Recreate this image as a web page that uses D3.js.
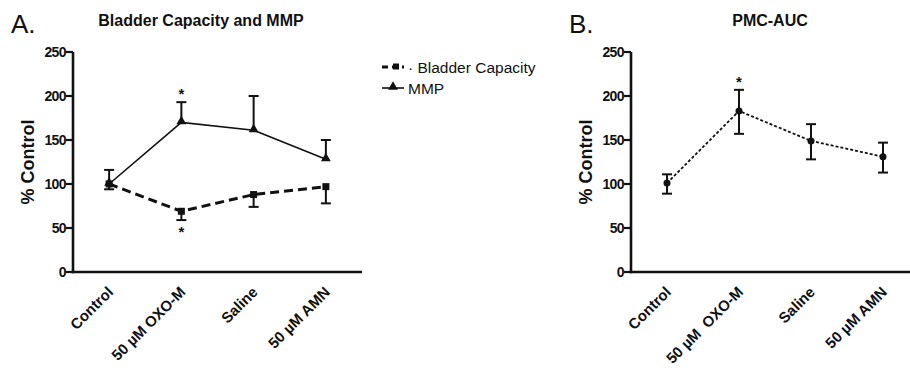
<!DOCTYPE html>
<html>
<head>
<meta charset="utf-8">
<script src="https://cdn.jsdelivr.net/npm/d3@7"></script>
<style>
  body { margin: 0; background: #fff; }
  svg text { font-family: Arial, "Liberation Sans", sans-serif; fill: #111; }
</style>
</head>
<body>
<svg id="chart" width="910" height="376"></svg>
<script>
// categories
const catsA = ['Control', '50 µM OXO-M', 'Saline', '50 µM AMN'];
const catsB = ['Control', '50 µM  OXO-M', 'Saline', '50 µM AMN'];
const yTicks = [0, 50, 100, 150, 200, 250];

// panel A series (mean, error end)
const bladderMean = [100, 69, 88, 97];
const bladderErrLow = [94, 59, 74, 78];
const mmpMean = [100, 170, 161, 128];
const mmpErrHigh = [116, 193, 200, 150];

// panel B series
const pmcMean = [101, 183, 149, 131];
const pmcErrLow = [89, 157, 128, 113];
const pmcErrHigh = [111, 207, 168, 147];

const svg = d3.select('#chart');

function panel(cfg) {
  const x = d3.scalePoint().domain(cfg.cats).range([cfg.x0, cfg.x1]).padding(0.5);
  const y = d3.scaleLinear().domain([0, 250]).range([272, 52]);
  const g = svg.append('g');

  // y axis
  g.append('line').attr('x1', cfg.x0).attr('x2', cfg.x0).attr('y1', y(250)).attr('y2', y(0) + 1.2)
    .attr('stroke', '#111').attr('stroke-width', 2.6);
  g.selectAll('.yt').data(yTicks).enter().append('line')
    .attr('x1', cfg.x0 - 7).attr('x2', cfg.x0).attr('y1', d => y(d)).attr('y2', d => y(d))
    .attr('stroke', '#111').attr('stroke-width', 2.2);
  g.selectAll('.yl').data(yTicks).enter().append('text')
    .attr('x', cfg.x0 - 7).attr('y', d => y(d)).attr('dy', '0.36em')
    .attr('text-anchor', 'end').style('font-size', '14px').style('font-weight', 'bold')
    .style('letter-spacing', '-0.6px')
    .text(d => d);

  // x axis
  g.append('line').attr('x1', cfg.x0 - 1.3).attr('x2', cfg.x1).attr('y1', y(0)).attr('y2', y(0))
    .attr('stroke', '#111').attr('stroke-width', 2.6);
  g.selectAll('.xl').data(cfg.cats).enter().append('text')
    .attr('transform', d => 'translate(' + (x(d) + 5) + ',' + (y(0) + 21) + ') rotate(-45)')
    .attr('text-anchor', 'end').style('font-size', '15px').style('font-weight', 'bold')
    .style('white-space', 'pre')
    .text(d => d);

  // y title
  g.append('text')
    .attr('transform', 'translate(' + (cfg.x0 - 39) + ',' + 162 + ') rotate(-90)')
    .attr('text-anchor', 'middle').style('font-size', '18px').style('font-weight', 'bold')
    .text('% Control');

  // panel letter and title
  g.append('text').attr('x', cfg.x0 - 62).attr('y', 33).style('font-size', '26px').text(cfg.letter);
  g.append('text').attr('x', cfg.titleX).attr('y', 26).attr('text-anchor', 'middle')
    .style('font-size', '16px').style('font-weight', 'bold').text(cfg.title);

  return { g, x, y };
}

function errBars(p, cats, from, to) {
  const d = cats.map((c, i) => ({ c, a: from[i], b: to[i] }));
  p.g.selectAll(null).data(d).enter().append('line')
    .attr('x1', e => p.x(e.c)).attr('x2', e => p.x(e.c))
    .attr('y1', e => p.y(e.a)).attr('y2', e => p.y(e.b))
    .attr('stroke', '#111').attr('stroke-width', 2);
  p.g.selectAll(null).data(d).enter().append('line')
    .attr('x1', e => p.x(e.c) - 5).attr('x2', e => p.x(e.c) + 5)
    .attr('y1', e => p.y(e.b)).attr('y2', e => p.y(e.b))
    .attr('stroke', '#111').attr('stroke-width', 2);
}

// ---- Panel A
const A = panel({ cats: catsA, x0: 73, x1: 362, letter: 'A.', title: 'Bladder Capacity and MMP', titleX: 201 });

errBars(A, catsA, mmpMean, mmpErrHigh);
errBars(A, catsA, bladderMean, bladderErrLow);

const lineA = (vals) => d3.line().x((d, i) => A.x(catsA[i])).y(d => A.y(d))(vals);

A.g.append('path').attr('d', lineA(mmpMean)).attr('fill', 'none')
  .attr('stroke', '#111').attr('stroke-width', 1.6);
A.g.append('path').attr('d', lineA(bladderMean)).attr('fill', 'none')
  .attr('stroke', '#111').attr('stroke-width', 3).attr('stroke-dasharray', '9,5');

const tri = d3.symbol().type(d3.symbolTriangle).size(42);
A.g.selectAll(null).data(mmpMean).enter().append('path')
  .attr('d', tri).attr('transform', (d, i) => 'translate(' + A.x(catsA[i]) + ',' + (A.y(d) - 1) + ')')
  .attr('fill', '#111');
A.g.selectAll(null).data(bladderMean).enter().append('rect')
  .attr('x', (d, i) => A.x(catsA[i]) - 3.5).attr('y', d => A.y(d) - 3.5)
  .attr('width', 7).attr('height', 7).attr('fill', '#111');

// significance
A.g.append('text').attr('x', A.x(catsA[1])).attr('y', A.y(mmpErrHigh[1]) - 3)
  .attr('text-anchor', 'middle').style('font-size', '15px').style('font-weight', 'bold').text('*');
A.g.append('text').attr('x', A.x(catsA[1])).attr('y', A.y(bladderErrLow[1]) + 17)
  .attr('text-anchor', 'middle').style('font-size', '15px').style('font-weight', 'bold').text('*');

// legend
const leg = A.g.append('g').attr('transform', 'translate(382,0)');
leg.append('line').attr('x1', 0).attr('x2', 22).attr('y1', 67).attr('y2', 67)
  .attr('stroke', '#111').attr('stroke-width', 3).attr('stroke-dasharray', '6,4');
leg.append('rect').attr('x', 11).attr('y', 63.5).attr('width', 6).attr('height', 6).attr('fill', '#111');
leg.append('text').attr('x', 26).attr('y', 67).attr('dy', '0.36em').style('font-size', '15.5px')
  .text('· Bladder Capacity');
leg.append('line').attr('x1', 0).attr('x2', 22).attr('y1', 88).attr('y2', 88)
  .attr('stroke', '#111').attr('stroke-width', 1.6);
leg.append('path').attr('d', tri).attr('transform', 'translate(11,87)').attr('fill', '#111');
leg.append('text').attr('x', 26).attr('y', 88).attr('dy', '0.36em').style('font-size', '15.5px')
  .text('MMP');

// ---- Panel B
const B = panel({ cats: catsB, x0: 631, x1: 919, letter: 'B.', title: 'PMC-AUC', titleX: 770 });

errBars(B, catsB, pmcMean, pmcErrHigh);
errBars(B, catsB, pmcMean, pmcErrLow);

B.g.append('path')
  .attr('d', d3.line().x((d, i) => B.x(catsB[i])).y(d => B.y(d))(pmcMean))
  .attr('fill', 'none').attr('stroke', '#111').attr('stroke-width', 1.8).attr('stroke-dasharray', '3,2');
B.g.selectAll(null).data(pmcMean).enter().append('circle')
  .attr('cx', (d, i) => B.x(catsB[i])).attr('cy', d => B.y(d)).attr('r', 3.5).attr('fill', '#111');
B.g.append('text').attr('x', B.x(catsB[1])).attr('y', B.y(pmcErrHigh[1]) - 3)
  .attr('text-anchor', 'middle').style('font-size', '15px').style('font-weight', 'bold').text('*');
</script>
</body>
</html>
